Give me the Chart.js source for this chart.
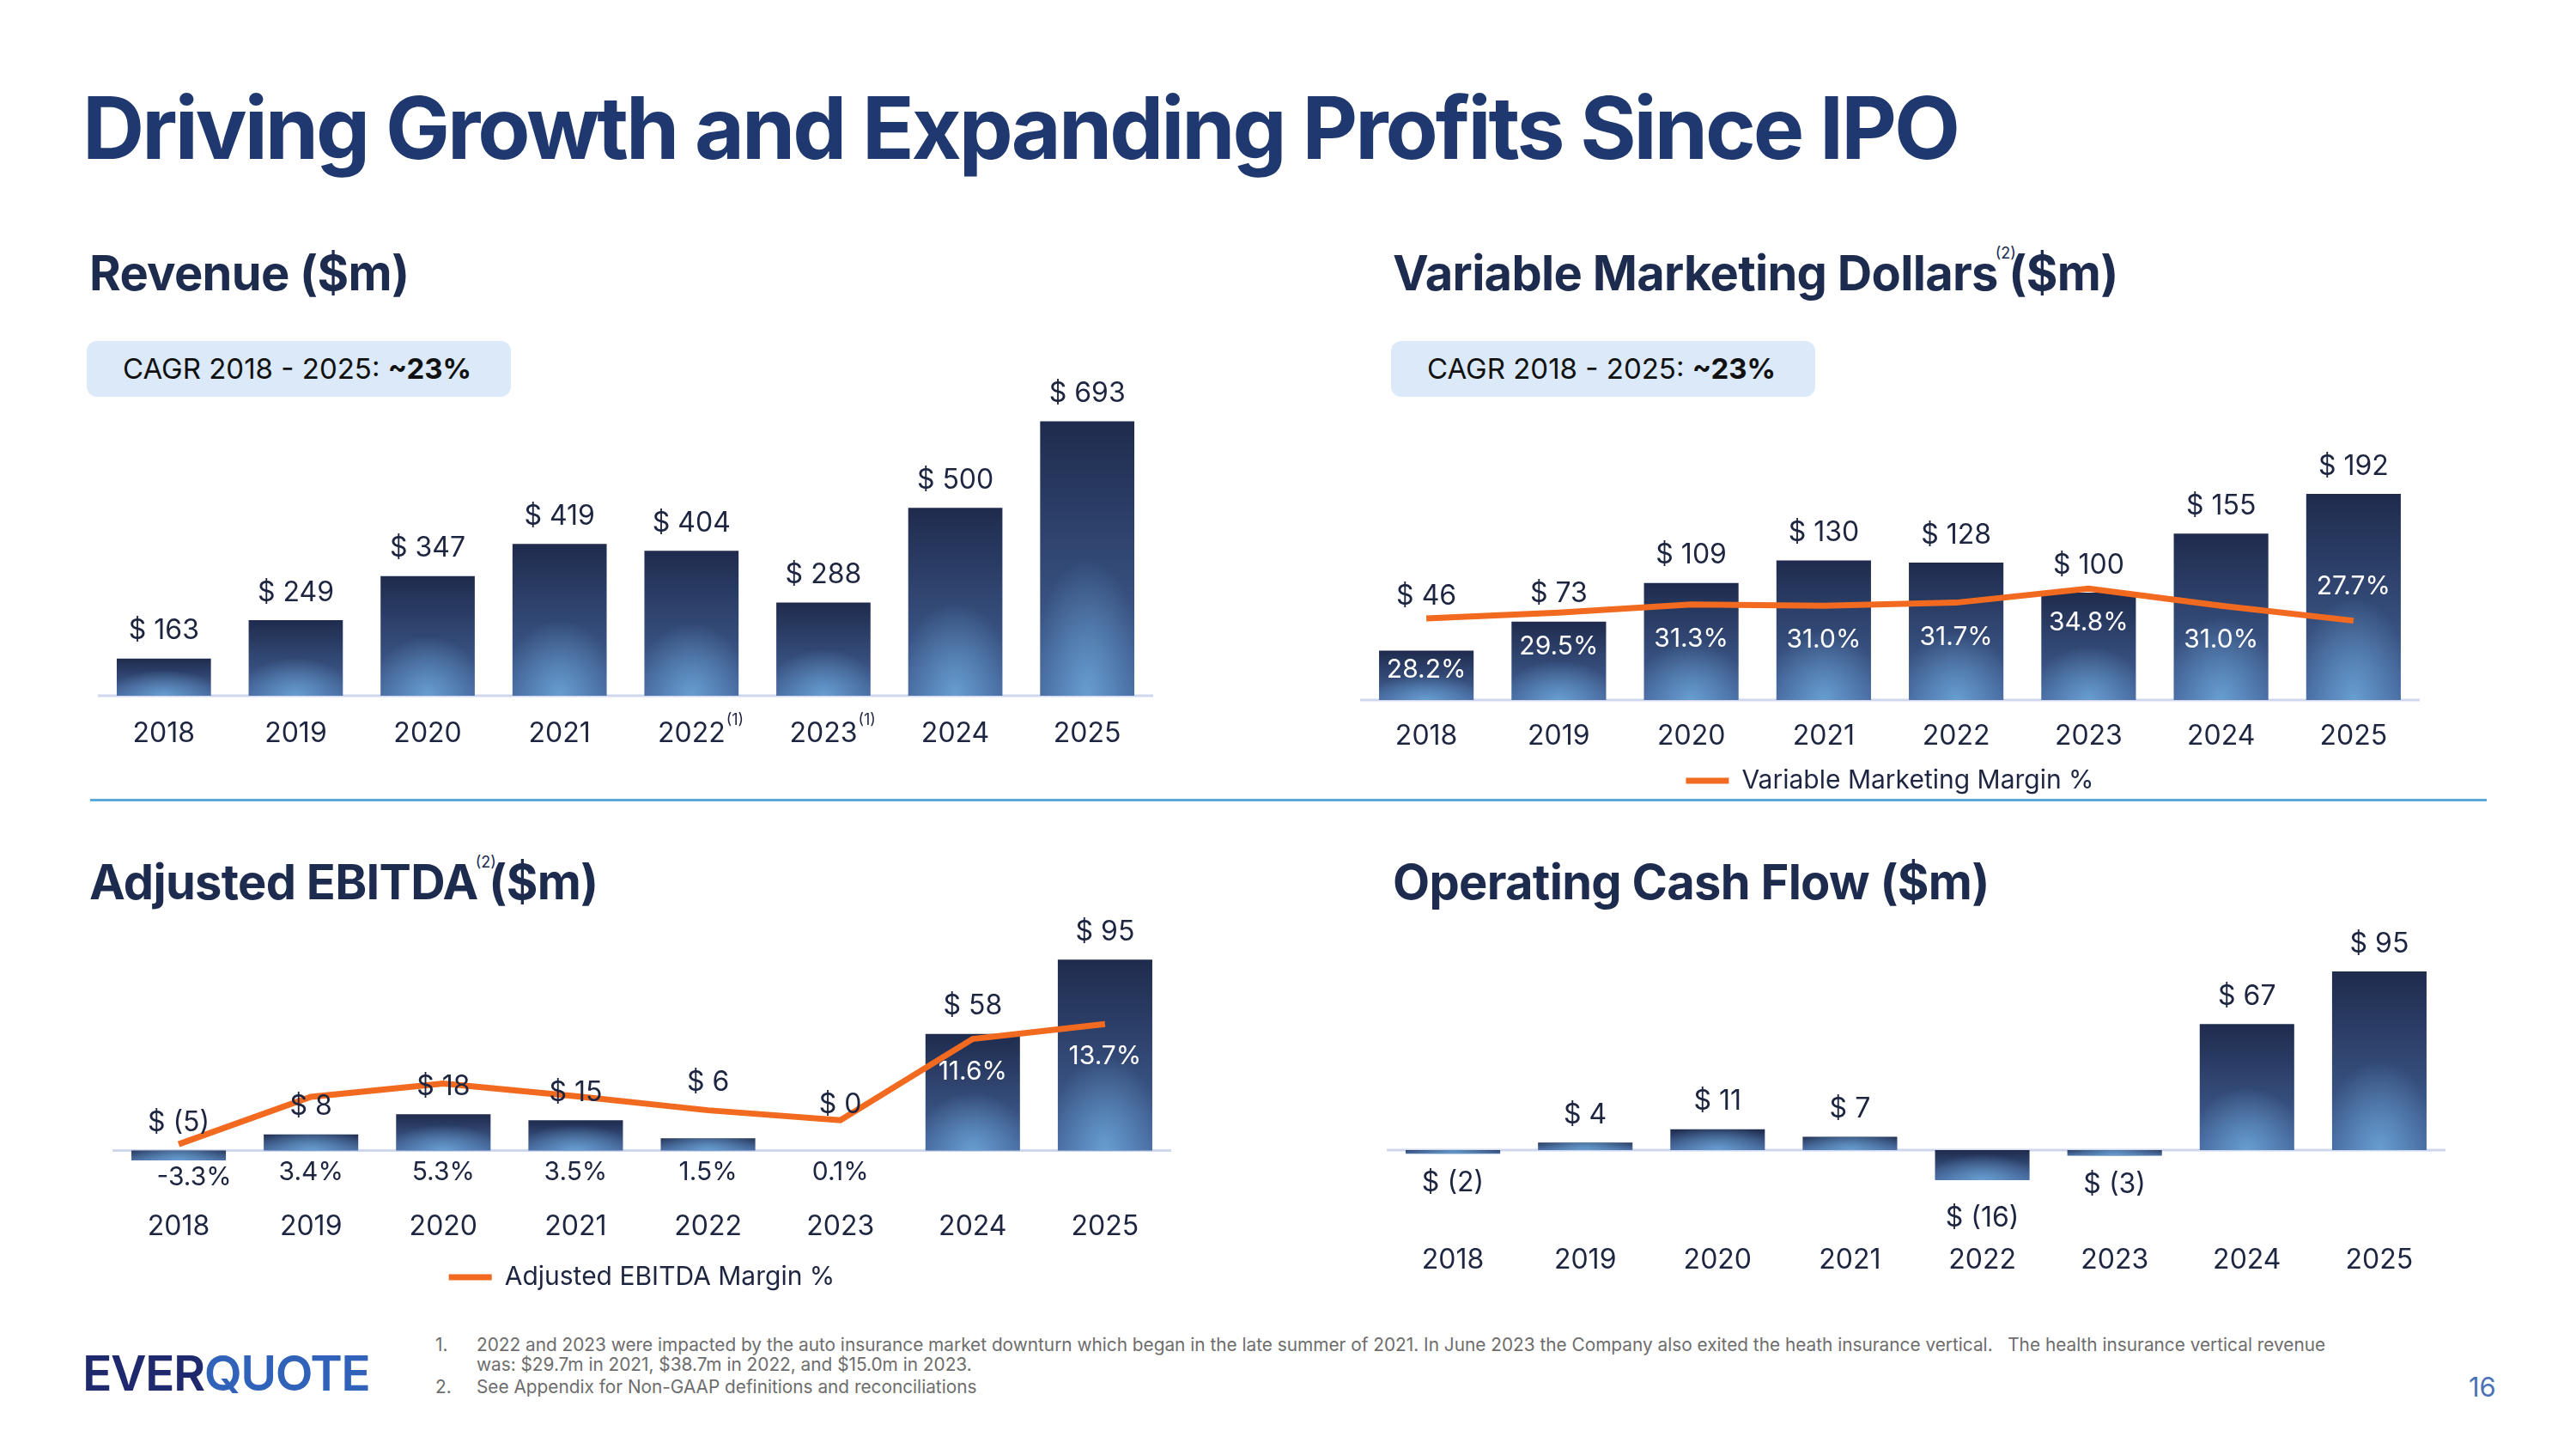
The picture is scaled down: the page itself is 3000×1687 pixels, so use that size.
<!DOCTYPE html>
<html>
<head>
<meta charset="utf-8">
<script src="https://cdn.jsdelivr.net/npm/chart.js@4.4.1/dist/chart.umd.min.js"></script>
<style>
  body { margin: 0; width: 3000px; height: 1687px; background: #fff; position: relative; overflow: hidden; font-family: Inter, "Noto Sans", sans-serif; }
  .abs { position: absolute; }
  .title { left: 96px; top: 99px; font-size: 100px; line-height: 1; font-weight: 700; letter-spacing: -3px; color: #1f3870; white-space: nowrap; }
  .sub { font-size: 56px; line-height: 1; font-weight: 700; letter-spacing: -0.7px; color: #1d2b4f; white-space: nowrap; }
  .sub .fn { display: inline-block; width: 0; font-size: 18px; font-weight: 400; letter-spacing: 0; vertical-align: top; position: relative; top: -4px; left: -3px; }
  .cagr { width: 494px; height: 65px; background: #dbe9f8; border-radius: 12px; font-size: 33px; color: #111; line-height: 65px; box-sizing: border-box; padding-left: 42px; white-space: nowrap; }
  .cagr b { font-weight: 700; }
  .divider { left: 105px; top: 930px; width: 2791px; height: 3px; background: #5aa9d8; }
  .logo { left: 96px; top: 1570px; font-size: 57px; line-height: 1; font-weight: 600; letter-spacing: -1.5px; }
  .notes { left: 507px; top: 1554px; font-size: 20.8px; line-height: 23px; color: #6d6d6d; }
  .notes div { position: relative; padding-left: 48px; white-space: nowrap; }
  .notes span { position: absolute; left: 0; }
  .page { left: 2875px; top: 1596px; font-size: 31px; color: #4a72b8; }
  canvas { position: absolute; }
</style>
</head>
<body>
<div class="abs title">Driving Growth and Expanding Profits Since IPO</div>

<div class="abs sub" style="left:104px; top:290px;">Revenue ($m)</div>
<div class="abs cagr" style="left:101px; top:397px;">CAGR 2018 - 2025: <b>~23%</b></div>

<div class="abs sub" style="left:1622px; top:290px;">Variable Marketing Dollars<span class="fn">(2)</span> ($m)</div>
<div class="abs cagr" style="left:1620px; top:397px;">CAGR 2018 - 2025: <b>~23%</b></div>

<div class="abs divider"></div>

<div class="abs sub" style="left:104px; top:999px;">Adjusted EBITDA<span class="fn">(2)</span> ($m)</div>
<div class="abs sub" style="left:1622px; top:999px;">Operating Cash Flow ($m)</div>

<canvas id="revChart" width="1229" height="500" style="left:114px; top:380px;"></canvas>
<canvas id="vmdChart" width="1234" height="474" style="left:1584px; top:460px;"></canvas>
<canvas id="ebitdaChart" width="1233" height="472" style="left:131px; top:1040px;"></canvas>
<canvas id="ocfChart" width="1233" height="450" style="left:1615px; top:1040px;"></canvas>

<div class="abs logo"><span style="color:#1f2a6e">EVER</span><span style="color:#2f62b8">QUOTE</span></div>
<div class="abs notes">
  <div><span>1.</span>2022 and 2023 were impacted by the auto insurance market downturn which began in the late summer of 2021. In June 2023 the Company also exited the heath insurance vertical.&nbsp;&nbsp; The health insurance vertical revenue<br>was: $29.7m in 2021, $38.7m in 2022, and $15.0m in 2023.</div>
  <div style="margin-top:3px"><span>2.</span>See Appendix for Non-GAAP definitions and reconciliations</div>
</div>
<div class="abs page">16</div>

<script>
// ---- data ----
const years = ['2018', '2019', '2020', '2021', '2022', '2023', '2024', '2025'];
const revenueNotes = ['', '', '', '', '(1)', '(1)', '', ''];
const revenue = [163, 249, 347, 419, 404, 288, 500, 693];
const vmDollars = [46, 73, 109, 130, 128, 100, 155, 192];
const vmMargin = [28.2, 29.5, 31.3, 31.0, 31.7, 34.8, 31.0, 27.7];
const ebitda = [-5, 8, 18, 15, 6, 0, 58, 95];
const ebitdaMargin = [-3.3, 3.4, 5.3, 3.5, 1.5, 0.1, 11.6, 13.7];
const cashFlow = [-2, 4, 11, 7, -16, -3, 67, 95];

const INK = '#1e2540';
const ORANGE = '#f26a1f';
Chart.defaults.font.family = 'Inter';
Chart.defaults.font.size = 30;
Chart.defaults.color = INK;

// vertical navy gradient for each bar
function barFill(ctx) {
  const chart = ctx.chart;
  if (!chart.chartArea || ctx.type !== 'data') return '#2c3f6c';
  const y = chart.scales.y;
  const base = ctx.dataset.base !== undefined ? ctx.dataset.base : 0;
  const p1 = y.getPixelForValue(ctx.raw), p0 = y.getPixelForValue(base);
  const top = Math.min(p1, p0), bot = Math.max(p1, p0);
  if (bot - top < 1) return '#2c3f6c';
  const g = chart.ctx.createLinearGradient(0, top, 0, bot);
  g.addColorStop(0, '#1f2b4d');
  g.addColorStop(1, '#44649a');
  return g;
}

// soft light-blue glow at the bottom of each bar
const barGlow = {
  id: 'barGlow',
  afterDatasetDraw(chart, args) {
    if (args.meta.type !== 'bar') return;
    const c = chart.ctx;
    args.meta.data.forEach(el => {
      const { x, y, base, width } = el.getProps(['x', 'y', 'base', 'width'], true);
      const top = Math.min(y, base), bot = Math.max(y, base), h = bot - top;
      if (h < 1) return;
      c.save();
      c.beginPath();
      c.rect(x - width / 2, top, width, h);
      c.clip();
      const rx = width * 0.62;
      const ry = Math.min(Math.max(h * 0.5, 30), 160);
      c.translate(x, bot);
      c.scale(1, ry / rx);
      const g = c.createRadialGradient(0, 0, 0, 0, 0, rx);
      g.addColorStop(0, 'rgba(112,172,222,0.8)');
      g.addColorStop(1, 'rgba(112,172,222,0)');
      c.fillStyle = g;
      c.fillRect(-rx, -rx, rx * 2, rx * 2);
      c.restore();
    });
  }
};

// light axis line at the bars' base value
const baseline = {
  id: 'baseline',
  beforeDatasetsDraw(chart, args, opts) {
    const y = chart.scales.y, a = chart.chartArea, c = chart.ctx;
    const py = y.getPixelForValue(opts.value || 0);
    c.save();
    c.strokeStyle = '#cfd7ef';
    c.lineWidth = 3;
    c.beginPath();
    c.moveTo(a.left, py);
    c.lineTo(a.right, py);
    c.stroke();
    c.restore();
  }
};

// "$ x" labels on bars and "%" labels on the margin line
const valueLabels = {
  id: 'valueLabels',
  afterDatasetsDraw(chart, args, opts) {
    const c = chart.ctx, y = chart.scales.y;
    const barMeta = chart.getDatasetMeta(0);
    const bars = chart.data.datasets[0].data;
    c.save();
    c.textAlign = 'center';
    c.textBaseline = 'middle';
    c.font = '32px Inter';
    barMeta.data.forEach((el, i) => {
      const v = bars[i];
      const txt = v < 0 ? '$ (' + Math.abs(v) + ')' : '$ ' + v;
      const top = Math.min(el.y, el.base), bot = Math.max(el.y, el.base);
      const nudge = (opts.nudge || [])[i] || 0;
      const ly = (v >= 0 || opts.negAbove) ? top - 32 - nudge : bot + 34 + nudge;
      c.fillStyle = INK;
      c.fillText(txt, el.x, ly);
    });
    if (chart.data.datasets.length > 1) {
      c.font = '30px Inter';
      const vals = chart.data.datasets[1].data;
      chart.getDatasetMeta(1).data.forEach((pt, i) => {
        const place = opts.linePlace[i];
        const bar = barMeta.data[i];
        let ly, lx = pt.x, col = '#ffffff';
        if (place === 'above') ly = pt.y - opts.lineGap;
        else if (place === 'inBar') ly = Math.min(bar.y, bar.base) + 22;
        else if (place === 'axis') {
          ly = y.getPixelForValue(0) + 26;
          col = INK;
          if (vals[i] < 0) { ly += 6; lx += 18; }
        }
        else ly = pt.y + opts.lineGap;
        c.fillStyle = col;
        c.fillText(vals[i].toFixed(1) + '%', lx, ly);
      });
    }
    c.restore();
  }
};

// footnote marks next to category labels
const tickNotes = {
  id: 'tickNotes',
  afterDraw(chart, args, opts) {
    if (!opts.marks) return;
    const x = chart.scales.x, c = chart.ctx;
    c.save();
    c.fillStyle = INK;
    c.textAlign = 'left';
    c.textBaseline = 'middle';
    opts.marks.forEach((m, i) => {
      if (!m) return;
      c.font = '32px Inter';
      const w = c.measureText(chart.data.labels[i]).width;
      c.font = '18px Inter';
      c.fillText(m, x.getPixelForTick(i) + w / 2 + 1, x.top + 29);
    });
    c.restore();
  }
};

function makeChart(id, cfg) {
  const datasets = [{
    type: 'bar',
    data: cfg.bars,
    base: cfg.barBase,
    backgroundColor: barFill,
    borderWidth: 0,
    categoryPercentage: 1,
    barPercentage: 0.714,
    order: 2
  }];
  const scales = {
    x: {
      grid: { display: false, drawTicks: false },
      border: { display: false },
      ticks: { padding: cfg.tickPad, color: INK, font: { size: 32 }, maxRotation: 0, autoSkip: false },
      afterFit: scale => { scale.height = cfg.axisH; }
    },
    y: { display: false, min: cfg.yMin, max: cfg.yMax }
  };
  if (cfg.line) {
    datasets.push({
      type: 'line',
      label: cfg.lineLabel,
      data: cfg.line,
      yAxisID: 'y2',
      borderColor: ORANGE,
      backgroundColor: ORANGE,
      borderWidth: 7,
      pointRadius: 0,
      tension: 0,
      order: 1
    });
    scales.y2 = { display: false, min: cfg.y2Min, max: cfg.y2Max };
  }
  return new Chart(document.getElementById(id), {
    data: { labels: years, datasets },
    plugins: [baseline, barGlow, valueLabels, tickNotes],
    options: {
      responsive: false,
      animation: false,
      devicePixelRatio: 1,
      layout: { padding: { top: cfg.padTop, left: 0, right: 0, bottom: 0 } },
      scales,
      plugins: {
        tooltip: { enabled: false },
        legend: {
          display: !!cfg.line,
          position: 'bottom',
          labels: {
            usePointStyle: true,
            pointStyle: 'line',
            pointStyleWidth: 50,
            color: INK,
            padding: 12,
            font: { size: 30 },
            filter: item => item.datasetIndex === 1
          }
        },
        baseline: { value: cfg.barBase || 0 },
        valueLabels: { nudge: cfg.nudge, negAbove: cfg.negAbove, linePlace: cfg.linePlace || [], lineGap: cfg.lineGap },
        tickNotes: { marks: cfg.marks }
      }
    }
  });
}

makeChart('revChart', {
  bars: revenue, barBase: 80, yMin: 80, yMax: 790,
  padTop: 60, axisH: 70, tickPad: 25, marks: revenueNotes
});

makeChart('vmdChart', {
  bars: vmDollars, yMin: 0, yMax: 236,
  line: vmMargin, lineLabel: 'Variable Marketing Margin %', y2Min: 10.1, y2Max: 66.3,
  padTop: 60, axisH: 67, tickPad: 23,
  nudge: [31, 0, 0, 0, 0, 0, 0, 0],
  linePlace: ['inBar', 'below', 'below', 'below', 'below', 'below', 'below', 'above'],
  lineGap: 40
});

makeChart('ebitdaChart', {
  bars: ebitda, yMin: -17.8, yMax: 119.5, negAbove: true,
  line: ebitdaMargin, lineLabel: 'Adjusted EBITDA Margin %', y2Min: -9.25, y2Max: 29.8,
  padTop: 20, axisH: 79, tickPad: 28,
  nudge: [0, 0, 0, 0, 33, 21, 0, 0],
  linePlace: ['axis', 'axis', 'axis', 'axis', 'axis', 'axis', 'below', 'below'],
  lineGap: 38
});

makeChart('ocfChart', {
  bars: cashFlow, yMin: -46.2, yMax: 127.5,
  padTop: 20, axisH: 50, tickPad: 8,
  nudge: [0, 0, 0, 0, 10, 0, 0, 0]
});
</script>
</body>
</html>
